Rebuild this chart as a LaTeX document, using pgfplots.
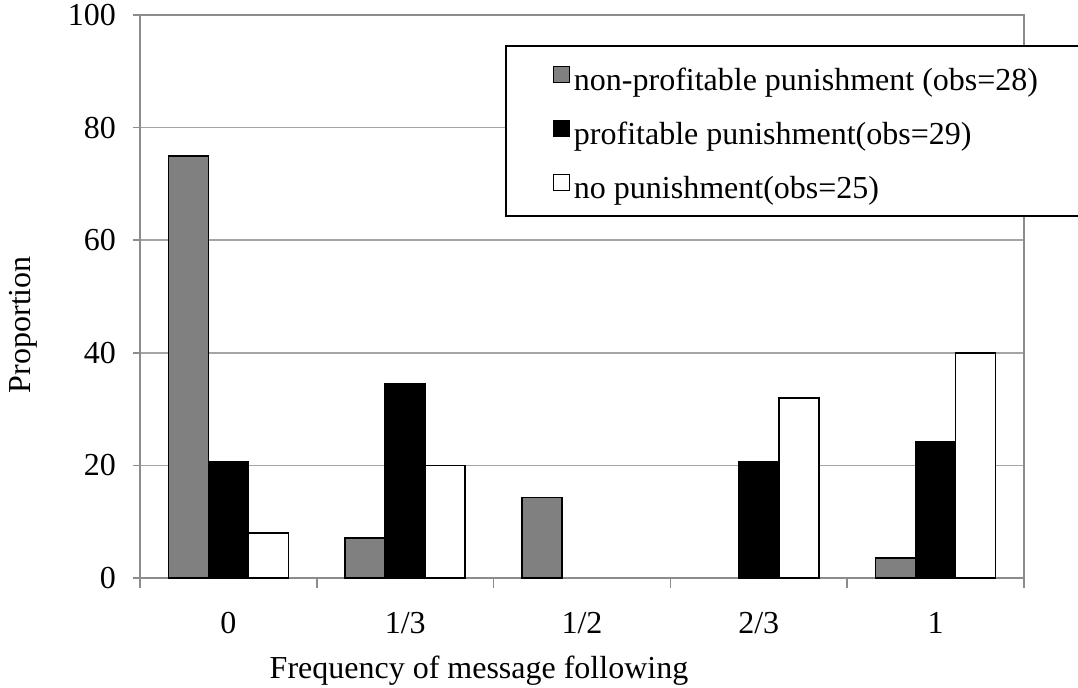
\documentclass[border=0pt]{standalone}
\usepackage{fontspec}
\setmainfont{Liberation Serif}
\usepackage{pgfplots}
\pgfplotsset{compat=1.18}
\definecolor{axisgray}{RGB}{140,140,140}
\definecolor{gridgray}{RGB}{165,165,165}
\definecolor{bargray}{RGB}{128,128,128}
\newcommand{\fs}{\fontsize{16}{19}\selectfont}
\pgfplotsset{
  mybar/.style={draw=black, line width=0.75pt,
    legend image code/.code={\draw[##1, line width=0.6pt] (0pt,-3pt) rectangle (8pt,5pt);}},
}
\begin{document}
\begin{tikzpicture}
\begin{axis}[
  scale only axis, width=442pt, height=281.5pt,
  xmin=-0.5, xmax=4.5, ymin=0, ymax=100,
  ybar=0pt, bar width=20pt,
  xtick={0,1,2,3,4}, xticklabels={0,1/3,1/2,2/3,1},
  ytick={0,20,40,60,80,100},
  /pgf/number format/assume math mode=true,
  ymajorgrids, grid style={gridgray, line width=0.75pt},
  axis line style={axisgray, line width=0.75pt},
  tick pos=left,
  tick align=outside, major tick length=3.5pt,
  tick style={axisgray, line width=0.75pt},
  xtick style={draw=none},
  extra x ticks={-0.5,0.5,1.5,2.5,3.5,4.5}, extra x tick labels={},
  extra x tick style={grid=none, xtick style={draw=axisgray, line width=0.75pt}, major tick length=5pt},
  tick label style={font=\fs},
  xticklabel style={anchor=base, yshift=-24pt},
  yticklabel style={anchor=east, xshift=-5pt},
  xlabel={Frequency of message following},
  ylabel={Proportion},
  every axis x label/.style={at={(axis description cs:0.3835,0)}, anchor=base, yshift=-50pt, font=\fs},
  every axis y label/.style={at={(axis description cs:-0.132,0.45)}, anchor=center, rotate=90, font=\fs},
  legend style={at={(rel axis cs:0.4129,0.9467)}, anchor=north west, draw=black, line width=0.75pt,
    fill=white, font=\fs, inner xsep=23.5pt, inner ysep=6.5pt, row sep=9pt,
    nodes={text height=14pt, text depth=0pt},
    /tikz/every even column/.style={column sep=3pt}},
  legend cell align=left,
]
\addplot[mybar, fill=bargray] coordinates {(0,75) (1,7.14) (2,14.29) (4,3.57)};
\addlegendentry{\makebox[270pt][l]{non-profitable punishment (obs=28)}}
\addplot[mybar, fill=black] coordinates {(0,20.69) (1,34.48) (3,20.69) (4,24.14)};
\addlegendentry{\makebox[270pt][l]{profitable punishment(obs=29)}}
\addplot[mybar, fill=white] coordinates {(0,8) (1,20) (3,32) (4,40)};
\addlegendentry{\makebox[270pt][l]{no punishment(obs=25)}}
\end{axis}
\pgfresetboundingbox
\path[use as bounding box] (-70pt,-54.5pt) rectangle (469pt,289pt);
\end{tikzpicture}
\end{document}
